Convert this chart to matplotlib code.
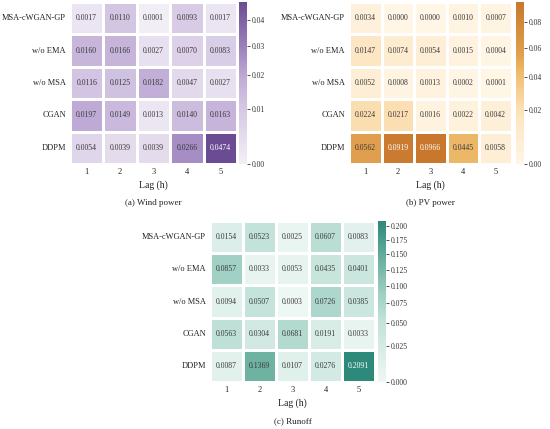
import numpy as np
import matplotlib
matplotlib.use("Agg")
import matplotlib.pyplot as plt
from matplotlib.colors import LinearSegmentedColormap, PowerNorm
import seaborn as sns

models = ["MSA-cWGAN-GP", "w/o EMA", "w/o MSA", "CGAN", "DDPM"]
lags = ["1", "2", "3", "4", "5"]

wind = [
    [0.0017, 0.0110, 0.0001, 0.0093, 0.0017],
    [0.0160, 0.0166, 0.0027, 0.0070, 0.0083],
    [0.0116, 0.0125, 0.0182, 0.0047, 0.0027],
    [0.0197, 0.0149, 0.0013, 0.0140, 0.0163],
    [0.0054, 0.0039, 0.0039, 0.0266, 0.0474],
]
pv = [
    [0.0034, 0.0000, 0.0000, 0.0010, 0.0007],
    [0.0147, 0.0074, 0.0054, 0.0015, 0.0004],
    [0.0052, 0.0008, 0.0013, 0.0002, 0.0001],
    [0.0224, 0.0217, 0.0016, 0.0022, 0.0042],
    [0.0562, 0.0919, 0.0966, 0.0445, 0.0058],
]
runoff = [
    [0.0154, 0.0523, 0.0025, 0.0607, 0.0083],
    [0.0857, 0.0033, 0.0053, 0.0435, 0.0401],
    [0.0094, 0.0507, 0.0003, 0.0726, 0.0385],
    [0.0563, 0.0304, 0.0681, 0.0191, 0.0033],
    [0.0087, 0.1369, 0.0107, 0.0276, 0.2091],
]

wind_ticks = [0.00, 0.01, 0.02, 0.03, 0.04]
pv_ticks = [0.00, 0.02, 0.04, 0.06, 0.08]
runoff_ticks = [0.000, 0.025, 0.050, 0.075, 0.100, 0.125, 0.150, 0.175, 0.200]

# colour stops along the (power-normed) colour scale
wind_colors = [(0, "#f3eff7"), (0.36, "#d3c6e3"), (0.47, "#c7b5da"),
               (0.54, "#bfaad5"), (0.67, "#a58cc4"), (1, "#6b4b93")]
pv_colors = [(0, "#fff6e6"), (0.27, "#fde6c4"), (0.36, "#fbdeb0"),
             (0.58, "#ecb868"), (0.68, "#e0a050"), (1, "#c8772c")]
runoff_colors = [(0, "#eef7f4"), (0.38, "#c3e2d9"), (0.54, "#a0d0c4"),
                 (0.74, "#6fb3a3"), (1, "#2d8979")]

plt.rcParams['font.family'] = ['Liberation Serif', 'DejaVu Serif']

W, H = 550, 429
fig = plt.figure(figsize=(5.5, 4.29), dpi=100)


def px_box(x0, y0, x1, y1):
    return [x0 / W, 1 - y1 / H, (x1 - x0) / W, (y1 - y0) / H]


panels = [
    (wind, wind_colors, wind_ticks, "{:.2f}", (70, 2, 237, 164), (239, 2, 247, 164), "(a) Wind power"),
    (pv, pv_colors, pv_ticks, "{:.2f}", (349, 2, 512, 164), (516, 2, 524, 164), "(b) PV power"),
    (runoff, runoff_colors, runoff_ticks, "{:.3f}", (210, 221, 375, 382), (378, 221, 386, 382), "(c) Runoff"),
]

for data, cols, ticks, tfmt, box, cbox, caption in panels:
    arr = np.array(data)
    cmap = LinearSegmentedColormap.from_list("c", cols)
    norm = PowerNorm(gamma=0.7, vmin=0, vmax=arr.max())
    ax = fig.add_axes(px_box(*box))
    cax = fig.add_axes(px_box(*cbox))
    sns.heatmap(arr, ax=ax, cbar_ax=cax, cmap=cmap, norm=norm,
                annot=True, fmt=".4f", annot_kws={"size": 5.6},
                linewidths=0.8, linecolor="white",
                xticklabels=lags, yticklabels=models)
    # light text only on the darkest cells
    for txt, val in zip(ax.texts, arr.ravel()):
        txt.set_color("white" if val / arr.max() > 0.8 else "#3a3a3a")
    ax.tick_params(length=0, labelsize=6, colors="#222222", pad=3)
    ax.set_yticklabels(models, rotation=0)
    ax.set_xlabel("Lag (h)", fontsize=7, color="#222222", labelpad=3)
    cax.set_yticks(ticks)
    cax.set_yticklabels([tfmt.format(t) for t in ticks])
    cax.tick_params(labelsize=5.5, length=2, width=0.6, colors="#333333", pad=1.5)
    cx = (box[0] + box[2]) / 2 / W
    cy = 1 - (box[3] + 39) / H
    fig.text(cx, cy, caption, ha="center", va="center", fontsize=6.5, color="#222222")

fig.savefig("out.png", dpi=100)
